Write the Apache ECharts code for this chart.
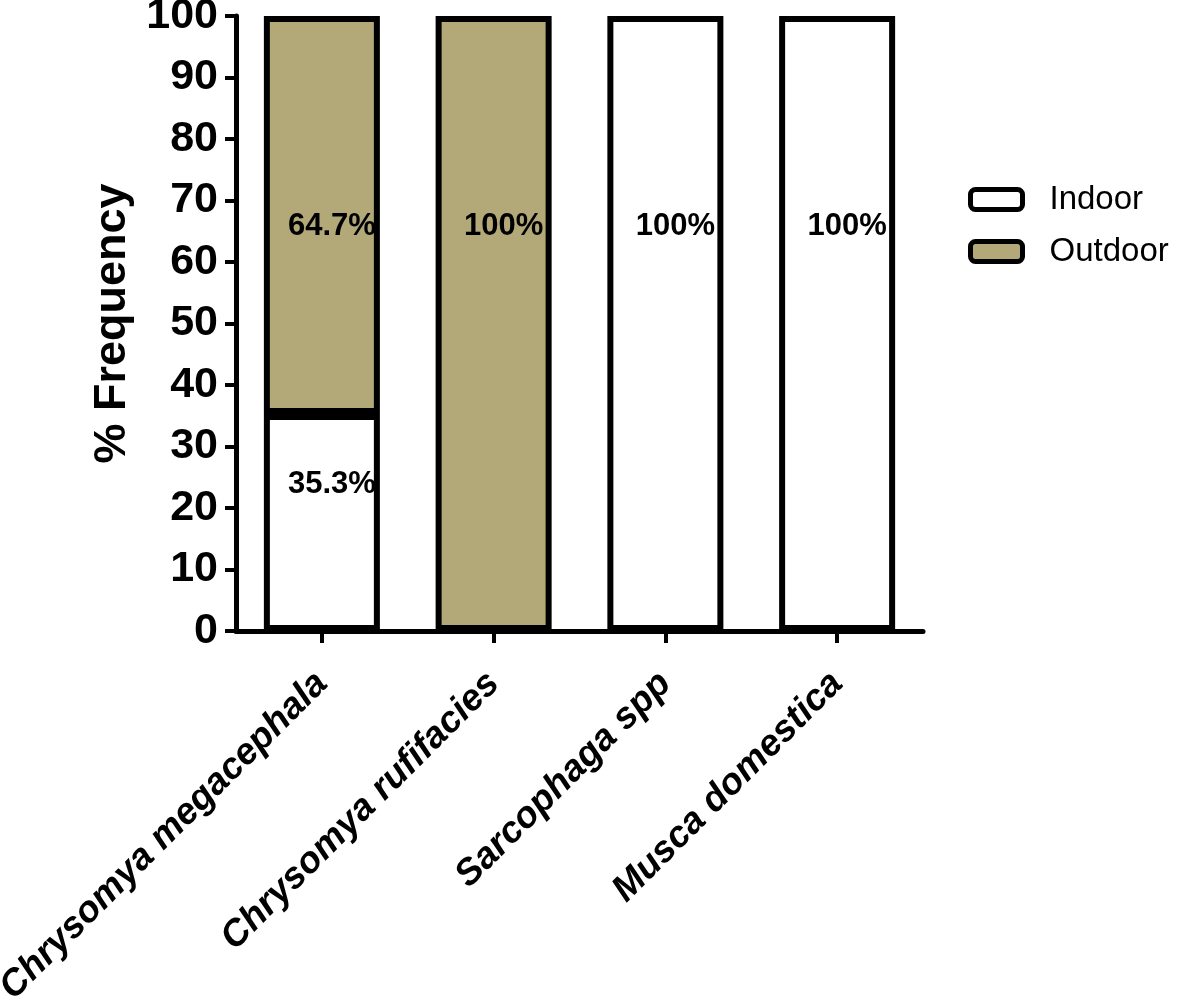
<!DOCTYPE html>
<html>
<head>
<meta charset="utf-8">
<script src="https://cdn.jsdelivr.net/npm/echarts@6/dist/echarts.min.js"></script>
<style>
html,body{margin:0;padding:0;background:#fff;}
#chart{width:1181px;height:1001px;}
</style>
</head>
<body>
<div id="chart"></div>
<script>
var categories = ['Chrysomya megacephala', 'Chrysomya rufifacies', 'Sarcophaga spp', 'Musca domestica'];
var indoor = [35.3, 0, 100, 100];
var outdoor = [64.7, 100, 0, 0];
var yTicks = [0, 10, 20, 30, 40, 50, 60, 70, 80, 90, 100];
// annotation texts and their vertical positions (in % units)
var annotText = ['64.7%', '35.3%', '100%', '100%', '100%'];
var annotCat = [0, 0, 1, 2, 3];
var annotY = [65.7, 23.8, 65.7, 65.7, 65.7];

var FONT = '"Liberation Sans", Arial, Helvetica, sans-serif';
var KHAKI = '#b3a877';

var chart = echarts.init(document.getElementById('chart'), null, {renderer: 'canvas'});

function noZero(arr) { return arr.map(function (v) { return v === 0 ? '-' : v; }); }

var annotData = annotText.map(function (t, i) {
  return {name: t, value: [categories[annotCat[i]], annotY[i]]};
});

var option = {
  animation: false,
  backgroundColor: '#fff',
  grid: {left: 236, right: 258, top: 16, bottom: 370, containLabel: false, outerBoundsMode: 'none'},
  legend: {
    orient: 'vertical',
    left: 963,
    top: 178,
    itemWidth: 52,
    itemHeight: 20,
    itemGap: 19,
    icon: 'roundRect',
    data: ['Indoor', 'Outdoor'],
    textStyle: {fontFamily: FONT, fontSize: 33, color: '#000', padding: [0, 0, 0, 22]},
    itemStyle: {borderColor: '#000', borderWidth: 5}
  },
  xAxis: {
    type: 'category',
    data: categories,
    axisLine: {show: true, lineStyle: {color: '#000', width: 5}},
    axisTick: {show: true, alignWithLabel: true, length: 12, lineStyle: {color: '#000', width: 4}},
    axisLabel: {
      rotate: 45, margin: 47, interval: 0,
      fontFamily: FONT, fontSize: 37, fontWeight: 'bold', fontStyle: 'italic', color: '#000'
    },
    splitLine: {show: false}
  },
  yAxis: {
    type: 'value',
    min: 0, max: 100, interval: 10,
    name: '% Frequency',
    nameLocation: 'middle',
    nameGap: 101,
    nameTextStyle: {fontFamily: FONT, fontSize: 45, fontWeight: 'bold', color: '#000'},
    axisLine: {show: true, lineStyle: {color: '#000', width: 5}},
    axisTick: {show: true, length: 11, lineStyle: {color: '#000', width: 4}},
    axisLabel: {
      margin: 18, fontFamily: FONT, fontSize: 43, fontWeight: 'bold', color: '#000',
      formatter: function (v) { return yTicks.indexOf(v) >= 0 ? String(v) : ''; }
    },
    splitLine: {show: false}
  },
  series: [
    {
      name: 'Indoor', type: 'bar', stack: 'total', barWidth: 116,
      data: noZero(indoor),
      itemStyle: {color: '#fff', borderColor: '#000', borderWidth: 6}
    },
    {
      name: 'Outdoor', type: 'bar', stack: 'total', barWidth: 116,
      data: noZero(outdoor),
      itemStyle: {color: KHAKI, borderColor: '#000', borderWidth: 6}
    },
    {
      name: 'annot', type: 'scatter', symbolSize: 0, z: 10,
      data: annotData,
      itemStyle: {color: '#000', opacity: 1},
      label: {
        show: true, position: 'inside', offset: [10, 0],
        formatter: function (p) { return p.name; },
        fontFamily: FONT, fontSize: 31, fontWeight: 'bold', color: '#000', opacity: 1,
        textBorderWidth: 0, textBorderColor: 'transparent'
      },
      silent: true
    }
  ]
};
chart.setOption(option);
</script>
</body>
</html>
